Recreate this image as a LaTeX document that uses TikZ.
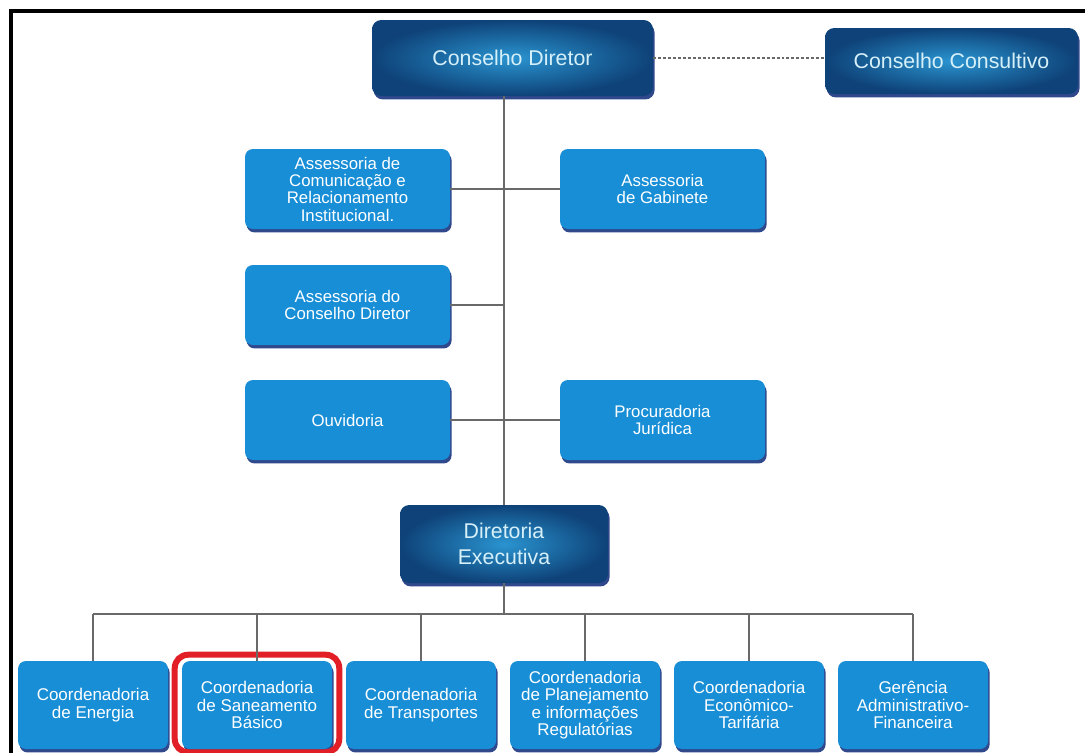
\documentclass[tikz,border=0pt]{standalone}
\usepackage{fontspec}
\setmainfont{Liberation Sans}
\usetikzlibrary{shadows}
\definecolor{boxblue}{RGB}{24,142,214}
\definecolor{navy}{RGB}{48,72,140}
\definecolor{darkout}{RGB}{14,66,120}
\definecolor{darkin}{RGB}{42,148,208}
\definecolor{darktext}{RGB}{214,240,250}
\definecolor{linegray}{RGB}{105,105,105}
\definecolor{hired}{RGB}{226,30,38}
\begin{document}
\begin{tikzpicture}[x=0.75pt,y=-0.75pt,
  boxsize/.style 2 args={minimum width=#1*0.75pt, minimum height=#2*0.75pt},
  lbox/.style={rounded corners=6pt, fill=boxblue, text=white, align=center, inner sep=0pt,
    font=\fontsize{12.6}{13}\selectfont,
    drop shadow={shadow xshift=1.2pt, shadow yshift=-2.6pt, fill=navy, opacity=1}},
  bbox/.style={lbox, boxsize={150}{88}, font=\fontsize{12.75}{13.1}\selectfont},
  dbox/.style={rounded corners=7pt, inner color=darkin, outer color=darkout, text=darktext,
    align=center, inner sep=0pt, font=\fontsize{16}{19}\selectfont,
    drop shadow={shadow xshift=1.2pt, shadow yshift=-2.6pt, fill=navy, opacity=1}},
  conn/.style={draw=linegray, line width=1.5pt},
  dotconn/.style={draw=linegray, line width=0.8pt, dash pattern=on 2.2pt off 1.5pt},
  frame/.style={draw=black, line width=2.5pt},
  highlight/.style={draw=hired, line width=4.5pt, rounded corners=10pt}]
\useasboundingbox (0,0) rectangle (1085,753);
\fill[white] (0,0) rectangle (1085,753);
\draw[frame] (11,760) -- (11,11) -- (1090,11);

\node[dbox, boxsize={281}{76}] (cd) at (512.5,58) {Conselho Diretor};
\node[dbox, boxsize={253}{66}] (cc) at (951.5,61) {Conselho Consultivo};

\node[lbox, boxsize={205}{80}] (asscom) at (347.5,189) {Assessoria de\\Comunicação e\\Relacionamento\\Institucional.};
\node[lbox, boxsize={205}{80}] (gab) at (662.5,189) {Assessoria\\de Gabinete};
\node[lbox, boxsize={205}{80}] (asscd) at (347.5,305) {Assessoria do\\Conselho Diretor};
\node[lbox, boxsize={205}{80}] (ouv) at (347.5,420) {Ouvidoria};
\node[lbox, boxsize={205}{80}] (proc) at (662.5,420) {Procuradoria\\Jurídica};

\node[dbox, boxsize={208}{78}] (de) at (504,544) {Diretoria\\Executiva};

\node[bbox] (b1) at (93,705) {Coordenadoria\\de Energia};
\node[bbox] (b2) at (257,705) {Coordenadoria\\de Saneamento\\Básico};
\node[bbox] (b3) at (421,705) {Coordenadoria\\de Transportes};
\node[bbox] (b4) at (585,705) {Coordenadoria\\de Planejamento\\e informações\\Regulatórias};
\node[bbox] (b5) at (749,705) {Coordenadoria\\Econômico-\\Tarifária};
\node[bbox] (b6) at (913,705) {Gerência\\Administrativo-\\Financeira};

\draw[highlight] ([shift={(-7,-6)}]b2.north west) rectangle ([shift={(7,3)}]b2.south east);

\draw[dotconn] (cd.east) -- (cd.east -| cc.west);
\draw[conn] (cd.south -| de.north) -- (de.north);
\draw[conn] (asscom.east) -- (gab.west);
\draw[conn] (asscd.east) -- (asscd.east -| de.north);
\draw[conn] (ouv.east) -- (proc.west);
\coordinate (bus) at (504,614);
\draw[conn] (de.south) -- (bus);
\draw[conn] (b1.north |- bus) -- (b6.north |- bus);
\foreach \b in {b1,b2,b3,b4,b5,b6} {
  \draw[conn] (\b.north |- bus) -- (\b.north);
}
\end{tikzpicture}
\end{document}
